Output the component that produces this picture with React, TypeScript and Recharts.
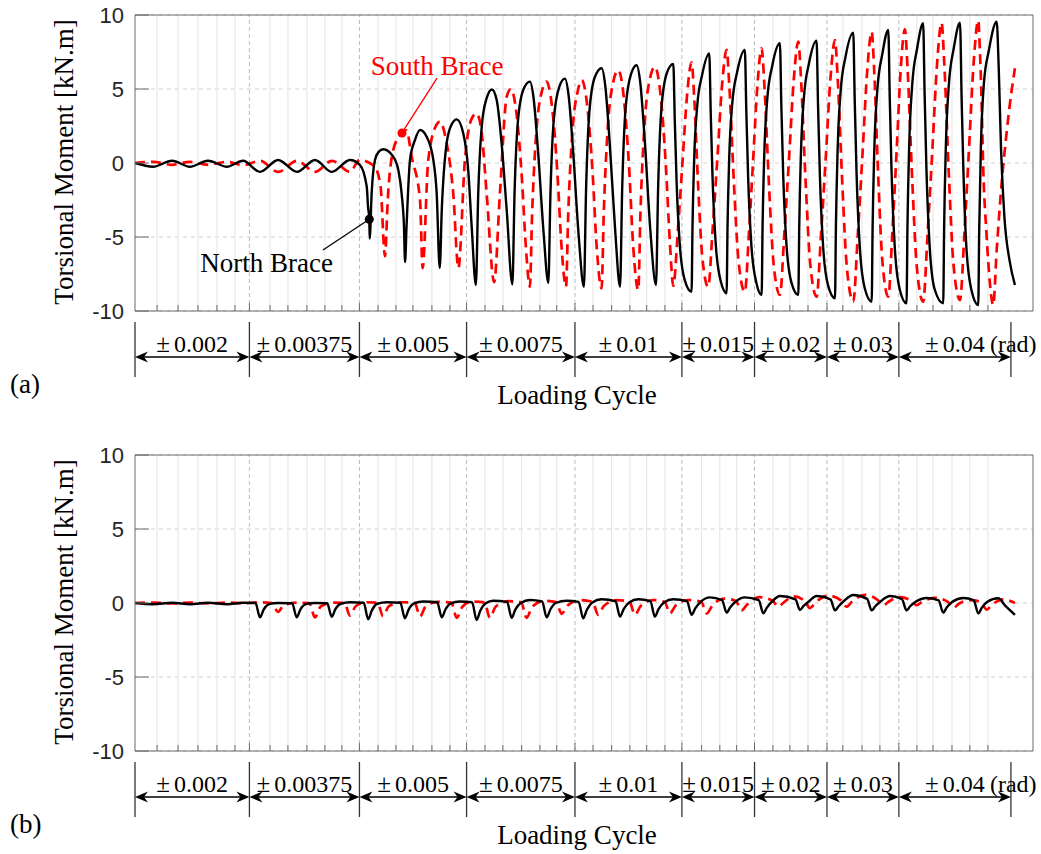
import React from 'react';
import { LineChart, Line, XAxis, YAxis, CartesianGrid, ReferenceLine, ReferenceDot } from 'recharts';

type Pt = [number, number];

// x = loading-cycle position (half-cycle units), y = torsional moment [kN.m]
const northA: Pt[] = [
  [0, 0], [0.99, -0.25], [2.03, 0.15], [3.01, -0.25], [4.0, 0.15], [5.04, -0.25], [5.92, 0.15], [6.85, -0.6], [7.84, 0.2], [8.88, -0.6], [9.86, 0.2], [10.79, -0.6], [11.78, 0.2],
  [12.33, -0.14], [12.7, -1.6], [12.77, -2.95], [12.84, -3.8], [12.86, -5.1], [12.97, -2.0], [13.15, 0.2], [13.35, 0.75], [13.61, 0.93], [14.15, 0.43], [14.43, -0.47], [14.61, -2.05], [14.74, -4.3], [14.8, -6.7],
  [14.88, -4.3], [15.07, 0.2], [15.34, 1.55], [15.62, 2.23], [15.98, 1.78], [16.35, 0.2], [16.53, -2.0], [16.7, -7.1],
  [16.81, -3.2], [17.08, 1.35], [17.35, 2.6], [17.63, 2.95], [17.99, 2.0], [18.26, -0.47], [18.45, -4.3], [18.68, -8.24],
  [18.81, -2.0], [19.0, 2.45], [19.25, 4.3], [19.56, 4.97], [19.82, 4.26], [20.09, 1.33], [20.37, -3.2], [20.68, -8.2],
  [20.8, -2.0], [20.98, 2.76], [21.28, 4.95], [21.64, 5.5], [21.84, 4.41], [22.09, 0.74], [22.39, -4.7], [22.65, -8.1],
  [22.77, -1.89], [22.95, 2.94], [23.25, 5.15], [23.56, 5.7], [23.76, 4.58], [24.01, 0.78], [24.31, -4.85], [24.6, -8.36],
  [24.72, -1.72], [24.9, 3.45], [25.2, 5.81], [25.57, 6.4], [25.77, 5.22], [26.02, 1.23], [26.32, -4.67], [26.58, -8.36],
  [26.7, -1.63], [26.88, 3.61], [27.18, 6.0], [27.49, 6.6], [27.69, 5.41], [27.94, 1.41], [28.24, -4.53], [28.55, -8.24],
  [28.67, -1.52], [28.85, 3.71], [29.15, 6.1], [29.5, 6.7],
  [29.58, 2.85], [29.68, -1.31], [29.86, -5.62], [30.13, -7.93], [30.5, -8.7],
  [30.55, -4.35], [30.64, 0.16], [30.81, 3.87], [31.08, 5.96], [31.47, 7.41],
  [31.55, 3.36], [31.65, -1.02], [31.83, -5.56], [32.1, -7.99], [32.42, -8.8],
  [32.47, -4.36], [32.56, 0.24], [32.73, 4.02], [33.0, 6.16], [33.42, 7.64],
  [33.5, 3.5], [33.6, -0.97], [33.78, -5.61], [34.05, -8.09], [34.34, -8.92],
  [34.39, -4.33], [34.48, 0.44], [34.65, 4.35], [34.92, 6.56], [35.34, 8.09],
  [35.42, 3.84], [35.52, -0.76], [35.7, -5.52], [35.97, -8.07], [36.35, -8.92],
  [36.4, -4.28], [36.49, 0.53], [36.66, 4.48], [36.93, 6.71], [37.35, 8.26],
  [37.43, 3.91], [37.53, -0.79], [37.71, -5.66], [37.98, -8.27], [38.36, -9.14],
  [38.41, -4.29], [38.5, 0.73], [38.67, 4.86], [38.94, 7.19], [39.36, 8.81],
  [39.44, 4.26], [39.54, -0.64], [39.72, -5.73], [39.99, -8.46], [40.37, -9.37],
  [40.42, -4.41], [40.51, 0.73], [40.68, 4.95], [40.95, 7.34], [41.28, 8.99],
  [41.36, 4.37], [41.46, -0.61], [41.64, -5.79], [41.91, -8.56], [42.28, -9.48],
  [42.33, -4.37], [42.42, 0.93], [42.59, 5.28], [42.86, 7.74], [43.19, 9.44],
  [43.27, 4.71], [43.37, -0.4], [43.55, -5.7], [43.82, -8.53], [44.29, -9.48],
  [44.34, -4.36], [44.43, 0.95], [44.6, 5.31], [44.87, 7.77], [45.21, 9.48],
  [45.3, 4.26], [45.39, -0.25], [45.57, -5.9], [45.84, -8.6], [46.21, -9.6],
  [46.26, -4.7], [46.35, 0.88], [46.52, 5.4], [46.79, 7.6], [47.22, 9.55],
  [47.33, 6.5], [47.46, 0.88], [47.64, -3.6], [47.92, -6.55], [48.22, -8.24],
];

const southA: Pt[] = [
  [0, 0], [1.0, 0.08], [2.03, -0.12], [3.01, 0.08], [4.0, -0.12], [5.04, 0.08], [5.92, -0.15], [6.85, 0.15], [7.84, -0.6], [8.88, 0.15], [9.86, -0.6], [10.79, 0.15], [11.78, -0.6], [12.3, 0.2], [13.1, -0.2], [13.45, -1.5], [13.7, -6.3],
  [13.85, -2.5], [14.15, 0.88], [14.61, 2.0], [14.88, 2.2], [15.16, 0.43], [15.62, -2.5], [15.76, -7.1],
  [16.07, 0.2], [16.53, 2.6], [16.71, 2.8], [17.08, 1.33], [17.44, -2.05], [17.72, -7.1],
  [18.08, 0.2], [18.45, 3.0], [18.72, 3.35], [19.0, 2.0], [19.27, -2.05], [19.68, -8.05],
  [20.0, -2.0], [20.37, 4.48], [20.6, 5.0],
  [20.9, 3.4], [21.2, -1.01], [21.42, -5.69], [21.64, -8.36],
  [21.76, -3.51], [21.99, 2.04], [22.29, 4.81], [22.55, 5.5],
  [22.85, 3.84], [23.15, -0.74], [23.37, -5.59], [23.62, -8.36],
  [23.74, -3.47], [23.97, 2.11], [24.27, 4.9], [24.48, 5.6],
  [24.78, 3.91], [25.08, -0.73], [25.3, -5.66], [25.57, -8.47],
  [25.69, -3.31], [25.92, 2.59], [26.22, 5.54], [26.48, 6.28],
  [26.78, 4.5], [27.08, -0.41], [27.3, -5.61], [27.58, -8.58],
  [27.7, -3.3], [27.93, 2.73], [28.23, 5.75], [28.49, 6.5],
  [28.79, 4.72], [29.09, -0.16], [29.31, -5.34], [29.5, -8.3],
  [29.75, -4.52], [30.0, 0.01], [30.25, 4.54], [30.5, 6.8],
  [30.64, 4.53], [30.86, -1.54], [31.09, -6.39], [31.41, -8.36],
  [31.66, -4.36], [31.92, 0.44], [32.17, 5.24], [32.42, 7.64],
  [32.57, 5.19], [32.82, -1.35], [33.07, -6.58], [33.42, -8.7],
  [33.65, -4.59], [33.88, 0.35], [34.11, 5.28], [34.34, 7.75],
  [34.49, 5.25], [34.74, -1.42], [34.99, -6.75], [35.34, -8.92],
  [35.59, -4.64], [35.85, 0.5], [36.1, 5.63], [36.35, 8.2],
  [36.5, 5.62], [36.75, -1.28], [37.0, -6.79], [37.35, -9.03],
  [37.6, -4.69], [37.86, 0.51], [38.11, 5.71], [38.36, 8.31],
  [38.51, 5.66], [38.76, -1.41], [39.01, -7.07], [39.36, -9.37],
  [39.61, -4.81], [39.87, 0.66], [40.12, 6.13], [40.37, 8.87],
  [40.51, 6.18], [40.73, -0.98], [40.96, -6.7], [41.28, -9.03],
  [41.51, -4.51], [41.74, 0.9], [41.96, 6.32], [42.19, 9.03],
  [42.34, 6.27], [42.59, -1.09], [42.84, -6.98], [43.19, -9.37],
  [43.44, -4.66], [43.7, 1.0], [43.95, 6.65], [44.2, 9.48],
  [44.35, 6.67], [44.6, -0.83], [44.85, -6.82], [45.21, -9.26],
  [45.46, -4.53], [45.71, 1.14], [45.96, 6.81], [46.21, 9.64],
  [46.3, 7.6], [46.39, 4.26], [46.48, -0.25], [46.66, -4.75], [46.85, -8.13], [47.03, -9.6],
  [47.22, -5.9], [47.49, -1.4], [47.76, 2.0], [48.04, 4.9], [48.22, 6.4],
];

const northB: Pt[] = [
  [0, 0], [0.99, -0.08], [2.03, 0.02], [3.01, -0.08], [4.0, 0.02], [5.04, -0.08], [5.92, 0.02], [6.6, 0.0],
  [6.85, -0.97], [7.05, -0.44], [7.35, -0.08], [7.84, 0.0], [8.61, -0.02],
  [8.86, -0.97], [9.06, -0.44], [9.36, -0.08], [9.86, 0.0], [10.53, -0.02],
  [10.78, -0.93], [10.98, -0.42], [11.28, -0.05], [11.8, 0.05], [12.53, 0.02],
  [12.78, -1.1], [12.98, -0.5], [13.28, -0.05], [13.8, 0.05], [14.54, 0.02],
  [14.79, -1.03], [14.99, -0.46], [15.29, -0.03], [15.8, 0.1], [16.56, 0.05],
  [16.81, -0.97], [17.01, -0.44], [17.31, -0.02], [17.8, 0.1], [18.47, 0.05],
  [18.72, -1.15], [18.92, -0.52], [19.22, -0.02], [19.63, 0.15], [20.39, 0.08],
  [20.64, -1.0], [20.84, -0.45], [21.14, 0.0], [21.64, 0.2], [22.31, 0.1],
  [22.56, -0.97], [22.76, -0.44], [23.06, 0.0], [23.65, 0.15], [24.31, 0.08],
  [24.56, -1.04], [24.76, -0.47], [25.06, 0.04], [25.57, 0.25], [26.33, 0.12],
  [26.58, -0.92], [26.78, -0.41], [27.08, 0.04], [27.58, 0.25], [28.24, 0.12],
  [28.49, -0.92], [28.69, -0.41], [28.99, 0.04], [29.5, 0.25], [30.25, 0.12],
  [30.5, -0.8], [30.7, -0.36], [31.0, 0.08], [31.5, 0.38], [32.17, 0.2],
  [32.42, -0.65], [32.62, -0.29], [32.92, 0.1], [33.42, 0.38], [34.18, 0.2],
  [34.43, -0.69], [34.63, -0.31], [34.93, 0.12], [35.34, 0.47], [36.19, 0.25],
  [36.44, -0.47], [36.64, -0.2], [36.94, 0.12], [37.35, 0.47], [38.11, 0.25],
  [38.36, -0.5], [38.56, -0.22], [38.86, 0.15], [39.36, 0.54], [40.12, 0.28],
  [40.37, -0.5], [40.57, -0.22], [40.87, 0.12], [41.37, 0.47], [42.03, 0.25],
  [42.28, -0.5], [42.48, -0.22], [42.78, 0.08], [43.38, 0.34], [44.04, 0.18],
  [44.29, -0.65], [44.49, -0.29], [44.79, 0.08], [45.39, 0.34], [45.96, 0.18],
  [46.21, -0.7], [46.41, -0.31], [46.71, 0.08], [47.31, 0.32], [47.7, -0.2], [48.22, -0.8],
];

const southB: Pt[] = [
  [0, 0], [1.0, 0.03], [2.03, -0.03], [3.01, 0.03], [4.0, -0.03], [5.04, 0.03], [6.0, -0.02], [6.85, 0.05],
  [7.5, 0.0], [7.84, -0.6], [8.15, -0.15], [8.85, 0.02],
  [9.55, 0.0], [9.86, -0.97], [10.17, -0.25], [10.8, 0.02],
  [11.48, 0.0], [11.78, -0.85], [12.09, -0.22], [12.7, 0.05],
  [13.3, 0.02], [13.59, -0.9], [13.9, -0.23], [14.6, 0.05],
  [15.32, 0.02], [15.62, -0.9], [15.93, -0.23], [16.6, 0.08],
  [17.33, 0.03], [17.63, -1.0], [17.94, -0.25], [18.5, 0.1],
  [19.15, 0.04], [19.45, -1.0], [19.76, -0.25], [20.5, 0.12],
  [21.16, 0.05], [21.46, -1.0], [21.77, -0.25], [22.4, 0.15],
  [23.08, 0.06], [23.38, -0.73], [23.69, -0.18], [24.4, 0.2],
  [25.08, 0.08], [25.38, -0.8], [25.69, -0.2], [26.4, 0.2],
  [27.1, 0.08], [27.4, -0.8], [27.71, -0.2], [28.4, 0.2],
  [29.02, 0.08], [29.32, -0.7], [29.63, -0.17], [30.3, 0.2],
  [31.03, 0.08], [31.33, -0.7], [31.64, -0.17], [32.3, 0.3],
  [32.94, 0.12], [33.24, -0.5], [33.55, -0.1], [34.2, 0.4],
  [34.95, 0.15], [35.25, -0.25], [35.56, 0.05], [36.1, 0.45],
  [36.69, 0.15], [36.99, -0.34], [37.3, 0.05], [38.0, 0.5],
  [38.69, 0.18], [38.99, -0.25], [39.3, 0.1], [40.0, 0.55],
  [40.7, 0.2], [41.0, -0.15], [41.31, 0.1], [41.9, 0.4],
  [42.53, 0.15], [42.83, -0.15], [43.14, 0.08], [43.8, 0.35],
  [44.54, 0.08], [44.84, -0.34], [45.15, -0.05], [45.8, 0.2],
  [46.37, 0.05], [46.67, -0.45], [46.98, -0.1], [47.6, 0.25], [48.22, 0.0],
];

const yTicks = [-10, -5, 0, 5, 10];
const minorGrid = [
  1.21, 2.36, 3.45, 4.49, 5.48, 7.4, 8.38, 9.42, 10.41, 11.34, 13.32, 14.3, 15.23, 16.27, 17.26,
  19.18, 20.16, 21.19, 22.19, 23.11, 25.1, 26.12, 27.12, 28.04, 29.04, 31.05, 32.05, 32.97,
  34.96, 35.89, 36.88, 38.79, 39.84, 40.82, 42.85, 43.73, 44.77, 45.75, 46.74,
];
const segmentBounds = [0, 6.27, 12.3, 18.17, 24.11, 29.97, 33.95, 37.92, 41.86, 48.0];
const segmentLabels = ['0.002', '0.00375', '0.005', '0.0075', '0.01', '0.015', '0.02', '0.03', '0.04'];

const X_DOMAIN: [number, number] = [0, 49.21];
const BAND = { top: -10.74, bottom: -14.46, arrow: -13.11 };
const W = 1041;
const PLOT_H = 296;
const TOP_H = 15;

const FRAME = '#6a6a6a';
const SERIF = '"Liberation Serif", "Times New Roman", serif';
const SANS = '"Liberation Sans", Arial, sans-serif';

const innerBounds = segmentBounds.slice(1, -1);
const xTicks = [...minorGrid, ...innerBounds].sort((a, b) => a - b);
const boundSet = new Set(innerBounds);

const toRows = (pts: Pt[]) => pts.map(([x, y]) => ({ x, y }));

const LeftTick = (p: any) => (
  <g>
    <line x1={p.x} y1={p.y} x2={p.x + 14} y2={p.y} stroke={FRAME} strokeWidth={1} />
    <text x={p.x - 11} y={p.y} dy="0.36em" textAnchor="end" fontFamily={SANS} fontSize={22} fill="#262626">
      {p.payload.value}
    </text>
  </g>
);
const RightTick = (p: any) => <line x1={p.x} y1={p.y} x2={p.x - 14} y2={p.y} stroke={FRAME} strokeWidth={1} />;
const BottomTick = (p: any) => {
  const len = boundSet.has(p.payload.value) ? 8 : 6;
  return <line x1={p.x} y1={p.y} x2={p.x} y2={p.y - len} stroke={FRAME} strokeWidth={1} />;
};
const TopTick = (p: any) => {
  const len = boundSet.has(p.payload.value) ? 8 : 6;
  return <line x1={p.x} y1={p.y} x2={p.x} y2={p.y + len} stroke={FRAME} strokeWidth={1} />;
};

const makeArrow = (label: string, suffix?: string) => (p: any) => {
  const { x1, y1, x2 } = p;
  const L = 13, H = 5.5, N = 4;
  const left = `M${x1},${y1} L${x1 + L},${y1 - H} L${x1 + L - N},${y1} L${x1 + L},${y1 + H} Z`;
  const right = `M${x2},${y1} L${x2 - L},${y1 - H} L${x2 - L + N},${y1} L${x2 - L},${y1 + H} Z`;
  return (
    <g>
      <line x1={x1 + 5} y1={y1} x2={x2 - 5} y2={y1} stroke="#000" strokeWidth={1.4} />
      <path d={left} fill="#000" />
      <path d={right} fill="#000" />
      <text x={(x1 + x2) / 2} y={y1 - 5} textAnchor="middle" fontFamily={SERIF} fontSize={24} fill="#000">
        <tspan fontSize={25}>±</tspan>
        <tspan dx={4}>{label}</tspan>
      </text>
      {suffix ? (
        <text x={x2 - 21} y={y1 - 5} textAnchor="start" fontFamily={SERIF} fontSize={24} fill="#000">
          {suffix}
        </text>
      ) : null}
    </g>
  );
};

const makeLeader = (text: string, color: string, anchor: 'end' | 'middle', dx: number, dy: number) => (p: any) => (
  <g>
    <line x1={p.x1} y1={p.y1} x2={p.x2} y2={p.y2} stroke={color} strokeWidth={1.3} />
    <text x={p.x2 + dx} y={p.y2 + dy} textAnchor={anchor} fontFamily={SERIF} fontSize={27} fill={color}>
      {text}
    </text>
  </g>
);

function Panel({ north, south, tag, height, annotate }: { north: Pt[]; south: Pt[]; tag: string; height: number; annotate: boolean }) {
  const bottomH = height - TOP_H - PLOT_H;
  return (
    <LineChart width={W} height={height} margin={{ top: 0, right: 0, bottom: 0, left: 0 }}>
      <CartesianGrid vertical={false} stroke="#d4d4d4" strokeDasharray="4 4" />
      {minorGrid.map((g) => (
        <ReferenceLine key={'g' + g} x={g} stroke="#e4e4e4" strokeWidth={1} />
      ))}
      {innerBounds.map((b) => (
        <ReferenceLine key={'b' + b} x={b} stroke="#bcbcbc" strokeWidth={1} strokeDasharray="4 3" />
      ))}
      <XAxis
        dataKey="x"
        type="number"
        domain={X_DOMAIN}
        allowDataOverflow
        ticks={xTicks}
        interval={0}
        height={bottomH}
        tickSize={0}
        tickMargin={0}
        tickLine={false}
        tick={BottomTick}
        axisLine={{ stroke: FRAME }}
        label={{
          content: (lp: any) => {
            const vb = lp.viewBox || { x: 135, y: 311, width: 898, height: bottomH };
            return (
              <g>
                <text x={vb.x + vb.width / 2 - 7} y={vb.y + 93} textAnchor="middle" fontFamily={SERIF} fontSize={27} fill="#000">
                  Loading Cycle
                </text>
                <text x={vb.x - 125} y={vb.y + 82} textAnchor="start" fontFamily={SERIF} fontSize={27} fill="#000">
                  {tag}
                </text>
              </g>
            );
          },
        }}
      />
      <XAxis
        xAxisId="top"
        orientation="top"
        type="number"
        domain={X_DOMAIN}
        allowDataOverflow
        ticks={xTicks}
        interval={0}
        height={TOP_H}
        tickSize={0}
        tickMargin={0}
        tickLine={false}
        tick={TopTick}
        axisLine={{ stroke: FRAME }}
      />
      <YAxis
        type="number"
        domain={[-10, 10]}
        allowDataOverflow
        ticks={yTicks}
        interval={0}
        width={135}
        tickSize={0}
        tickMargin={0}
        tickLine={false}
        tick={LeftTick}
        axisLine={{ stroke: FRAME }}
        label={{
          content: (lp: any) => {
            const vb = lp.viewBox || { x: 0, y: TOP_H, width: 135, height: PLOT_H };
            const cx = vb.x + 73;
            const cy = vb.y + vb.height / 2 - 1;
            return (
              <text transform={`translate(${cx},${cy}) rotate(-90)`} textAnchor="middle" fontFamily={SERIF} fontSize={27} fill="#000">
                Torsional Moment [kN.m]
              </text>
            );
          },
        }}
      />
      <YAxis
        yAxisId="right"
        orientation="right"
        type="number"
        domain={[-10, 10]}
        ticks={yTicks}
        interval={0}
        width={8}
        tickSize={0}
        tickMargin={0}
        tickLine={false}
        tick={RightTick}
        axisLine={{ stroke: FRAME }}
      />
      <Line data={toRows(south)} dataKey="y" type="monotone" stroke="#ff0000" strokeWidth={2.7} strokeDasharray="10 6" dot={false} activeDot={false} isAnimationActive={false} />
      <Line data={toRows(north)} dataKey="y" type="monotone" stroke="#000000" strokeWidth={2.4} dot={false} activeDot={false} isAnimationActive={false} />
      {segmentBounds.map((b) => (
        <ReferenceLine
          key={'v' + b}
          ifOverflow="visible"
          segment={[{ x: b, y: BAND.top }, { x: b, y: BAND.bottom }]}
          stroke="#333"
          strokeWidth={1.3}
        />
      ))}
      {segmentLabels.map((lab, i) => (
        <ReferenceLine
          key={'a' + i}
          ifOverflow="visible"
          segment={[{ x: segmentBounds[i], y: BAND.arrow }, { x: segmentBounds[i + 1], y: BAND.arrow }]}
          shape={makeArrow(lab, i === segmentLabels.length - 1 ? '(rad)' : undefined)}
        />
      ))}
      {annotate ? (
        <ReferenceLine
          ifOverflow="visible"
          segment={[{ x: 14.63, y: 2.03 }, { x: 16.55, y: 5.74 }]}
          shape={makeLeader('South Brace', '#ff0000', 'middle', 0, -3)}
        />
      ) : null}
      {annotate ? (
        <ReferenceLine
          ifOverflow="visible"
          segment={[{ x: 12.84, y: -3.8 }, { x: 10.3, y: -5.88 }]}
          shape={makeLeader('North Brace', '#000000', 'end', 10, 22)}
        />
      ) : null}
      {annotate ? <ReferenceDot x={14.63} y={2.03} r={4.5} fill="#ff0000" stroke="none" ifOverflow="visible" /> : null}
      {annotate ? <ReferenceDot x={12.84} y={-3.8} r={4.5} fill="#000000" stroke="none" ifOverflow="visible" /> : null}
    </LineChart>
  );
}

export default function App() {
  return (
    <div style={{ position: 'absolute', left: 0, top: 0, width: W, height: 854, background: '#fff' }}>
      <div style={{ position: 'absolute', left: 0, top: 0 }}>
        <Panel north={northA} south={southA} tag="(a)" height={440} annotate />
      </div>
      <div style={{ position: 'absolute', left: 0, top: 440 }}>
        <Panel north={northB} south={southB} tag="(b)" height={414} annotate={false} />
      </div>
    </div>
  );
}
